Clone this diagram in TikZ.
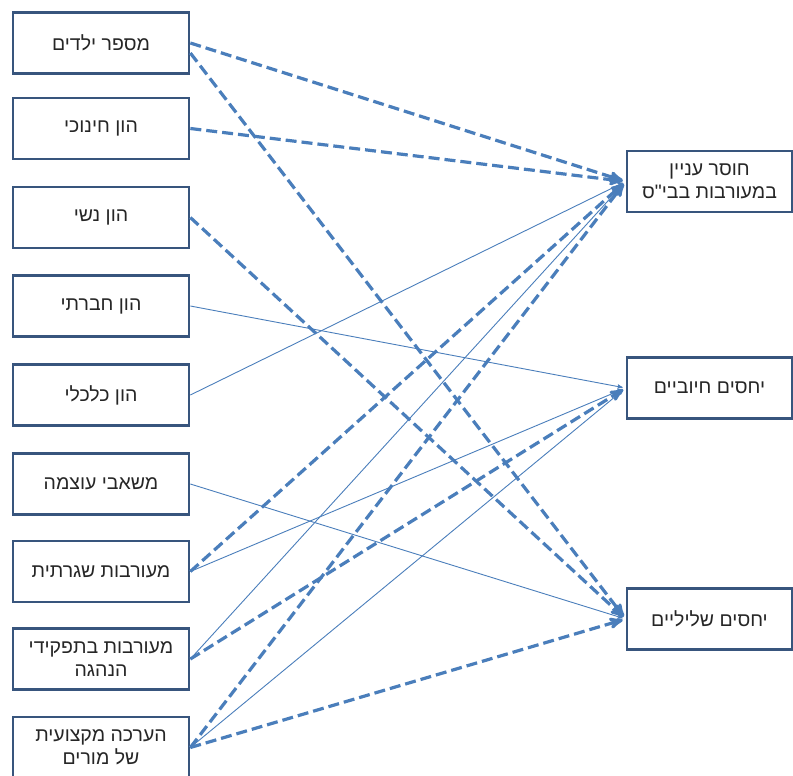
\documentclass[tikz,border=0pt]{standalone}
\usepackage{fontspec}
\setmainfont{Liberation Sans}
\newfontfamily\hebfont[Script=Hebrew]{Liberation Sans}
\TeXXeTstate=1
\usetikzlibrary{arrows}
\definecolor{boxline}{RGB}{56,85,125}
\definecolor{arrline}{RGB}{74,126,187}
\tikzset{
  factor/.style = {draw=boxline, line width=2.7pt, fill=white, align=center,
    minimum width=176pt, minimum height=61pt, inner sep=2pt, text=black!85,
    font=\hebfont\fontsize{19.5}{22.5}\selectfont},% משתנה מסביר
  outcome/.style = {factor, minimum width=165pt},% משתנה תלוי
  sig/.style = {->, draw=arrline, line width=3.2pt,
    dash pattern=on 11pt off 5pt, shorten >=3pt},% קשר מקווקו
  weak/.style = {->, draw=arrline, line width=0.9pt, shorten >=3pt}% קשר רציף
}

\begin{document}
\begin{tikzpicture}[x=1pt,y=-1pt,>=stealth']
\useasboundingbox (0,0) rectangle (793,776);
% left column
\node [factor] (f1) at (101,43)    {\beginR מספר ילדים\endR};
\node [factor] (f2) at (101,128.5) {\beginR הון חינוכי\endR};
\node [factor] (f3) at (101,217.5) {\beginR הון נשי\endR};
\node [factor] (f4) at (101,306)   {\beginR הון חברתי\endR};
\node [factor] (f5) at (101,395)   {\beginR הון כלכלי\endR};
\node [factor] (f6) at (101,484)   {\beginR משאבי עוצמה\endR};
\node [factor] (f7) at (101,571.5) {\beginR מעורבות שגרתית\endR};
\node [factor] (f8) at (101,659)   {\beginR מעורבות בתפקידי\endR\\\beginR הנהגה\endR};
\node [factor] (f9) at (101,747.5) {\beginR הערכה מקצועית\endR\\\beginR של מורים\endR};
% right column
\node [outcome] (o1) at (709.5,181.5) {\beginR חוסר עניין\endR\\\beginR במעורבות בבי"ס\endR};
\node [outcome] (o2) at (709.5,388)   {\beginR יחסים חיוביים\endR};
\node [outcome] (o3) at (709.5,619)   {\beginR יחסים שליליים\endR};
% connectors
\draw [sig]  (f1.east) -- (o1.west);
\draw [sig]  ([yshift=-10pt]f1.east) -- (o3.west);
\draw [sig]  (f2.east) -- (o1.west);
\draw [sig]  (f3.east) -- (o3.west);
\draw [weak] (f4.east) -- (o2.west);
\draw [weak] (f5.east) -- (o1.west);
\draw [weak] (f6.east) -- (o3.west);
\draw [sig]  (f7.east) -- (o1.west);
\draw [weak] (f7.east) -- (o2.west);
\draw [weak] (f8.east) -- (o1.west);
\draw [sig]  (f8.east) -- (o2.west);
\draw [sig]  (f9.east) -- (o1.west);
\draw [weak] (f9.east) -- (o2.west);
\draw [sig]  (f9.east) -- (o3.west);
\end{tikzpicture}
\end{document}
